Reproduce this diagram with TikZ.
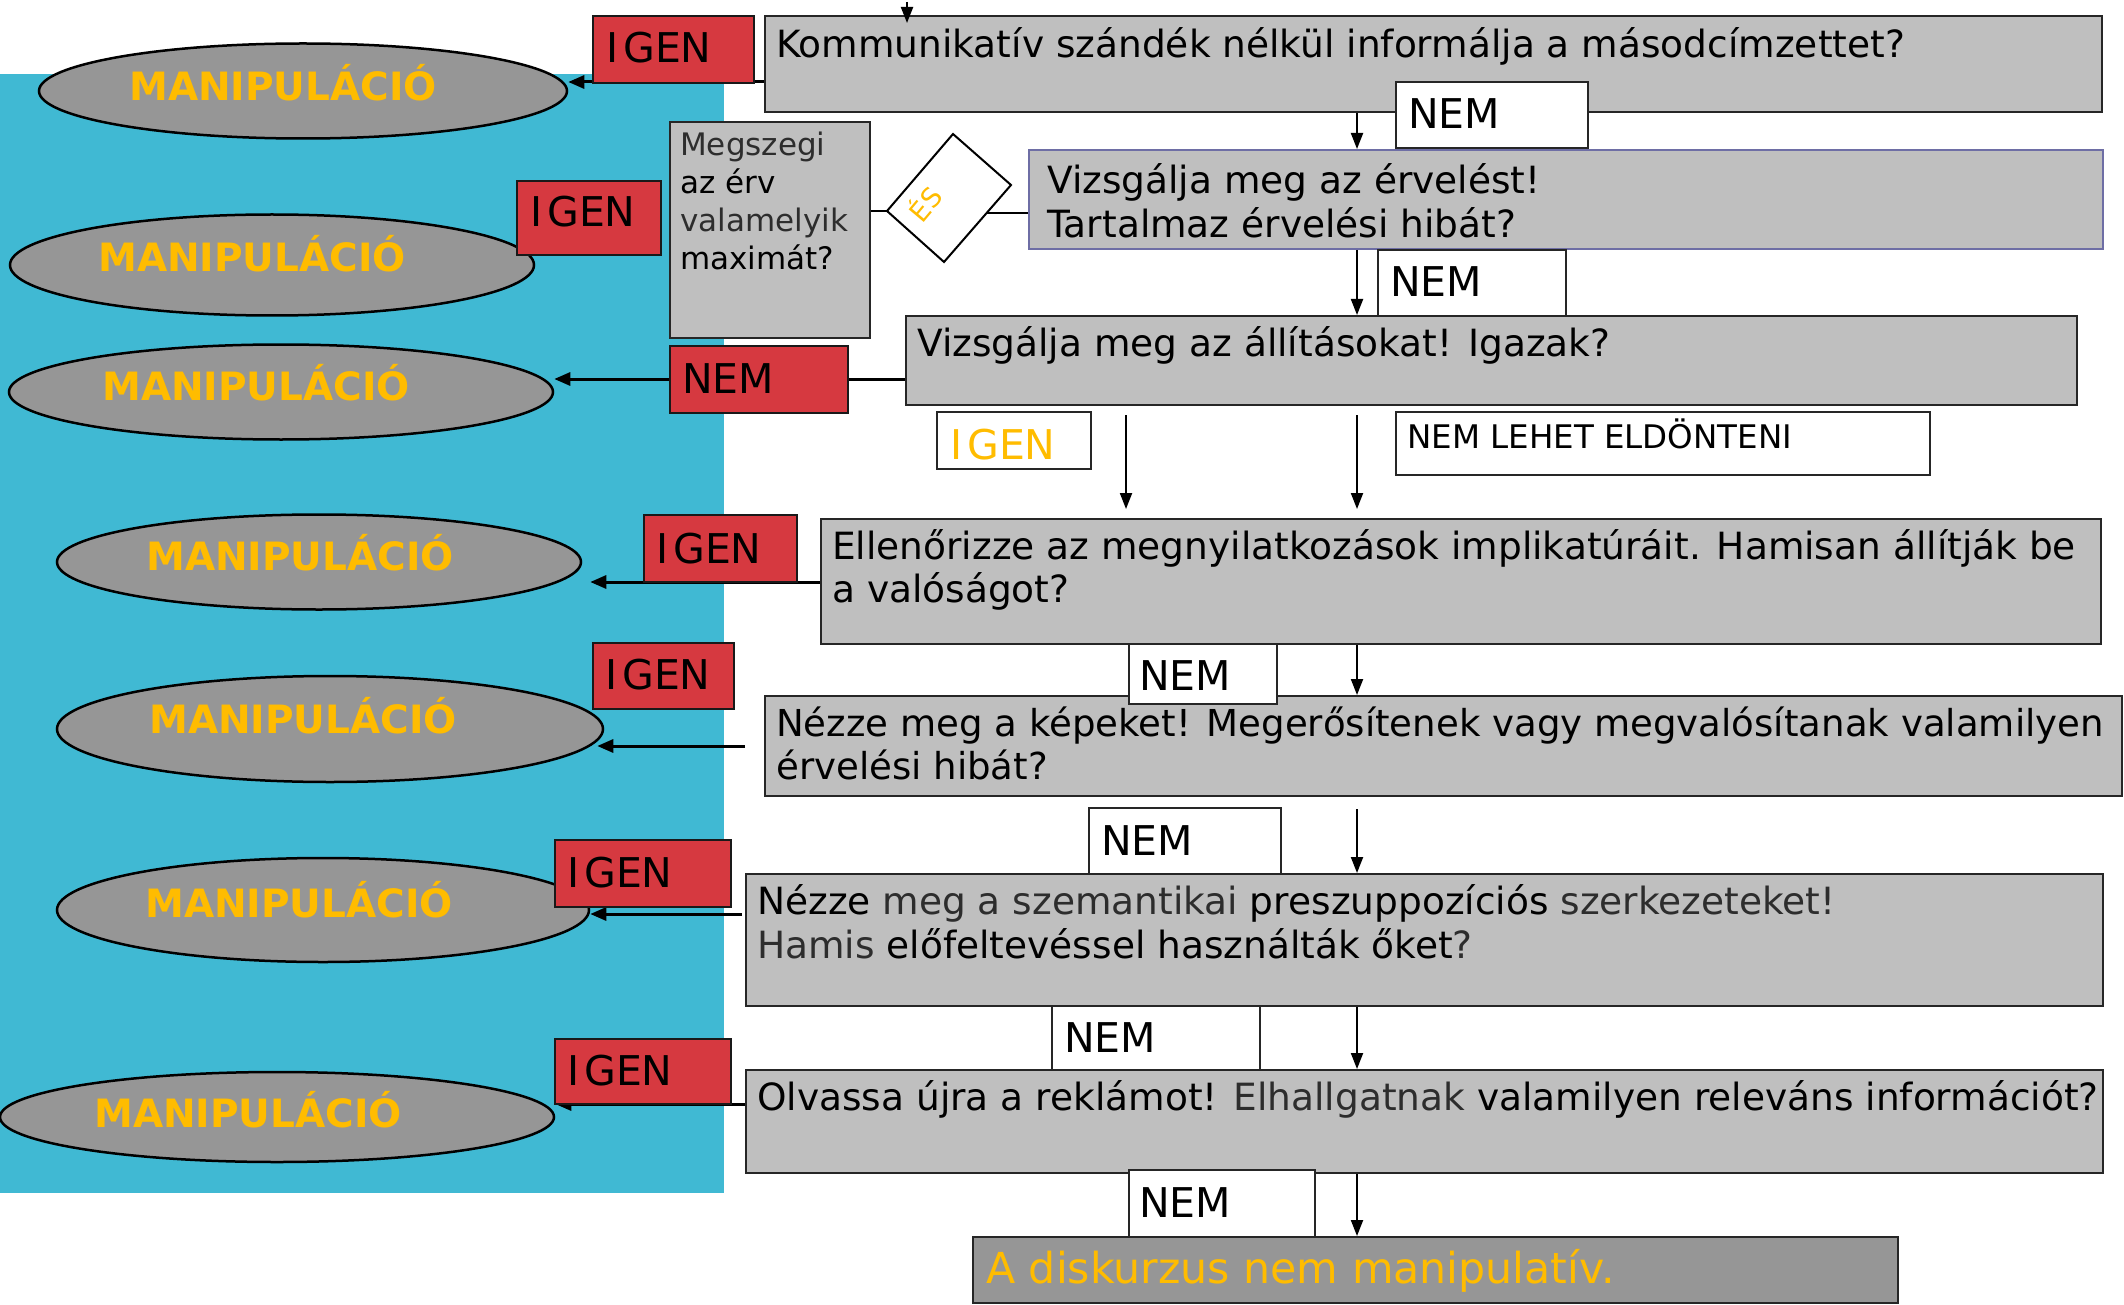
\documentclass[tikz,border=0pt]{standalone}
\usepackage{fontspec}
\setmainfont{DejaVu Sans}
\usetikzlibrary{shapes.geometric,arrows.meta,calc}
\definecolor{bluebg}{RGB}{64,185,211}
\definecolor{ellgray}{RGB}{150,150,150}
\definecolor{boxgray}{RGB}{191,191,191}
\definecolor{redbox}{RGB}{214,57,64}
\definecolor{orangec}{RGB}{255,188,0}
\definecolor{litec}{RGB}{45,45,45}
\definecolor{vizborder}{RGB}{110,110,165}
\newcommand\lite[1]{{\color{litec}#1}}
\newcommand\igentext{I\kern5pt GEN}
\begin{document}
\begin{tikzpicture}[x=1pt,y=-1pt,
  gbox/.style={draw=black!85, line width=2pt, fill=boxgray, anchor=north west, inner sep=0pt},
  wbox/.style={draw=black!85, line width=1.6pt, fill=white, anchor=north west, inner sep=0pt},
  rbox/.style={draw=black!90, line width=2pt, fill=redbox, anchor=north west, inner sep=0pt},
  ell/.style={ellipse, draw=black, line width=2.5pt, fill=ellgray, inner sep=0pt},
  mt/.style={anchor=base west, inner sep=0pt, font=\fontsize{37.5}{44}\selectfont},
  st/.style={anchor=base west, inner sep=0pt, font=\fontsize{31}{38}\selectfont},
  lbl/.style={anchor=base west, inner sep=0pt, font=\fontsize{41}{48}\selectfont},
  mtext/.style={anchor=base west, inner sep=0pt, text=orangec, font=\bfseries\fontsize{39}{40}\selectfont},
  arr/.style={-{Triangle[length=16pt,width=13pt]}, line width=3pt},
  varr/.style={-{Triangle[length=16pt,width=12pt]}, line width=2pt},
  plain/.style={line width=2pt}
]
\useasboundingbox (0,0) rectangle (2124,1305);
\fill[bluebg] (0,74) rectangle (724,1193);

% ellipses
\node[ell, minimum width=528pt, minimum height=95pt] (e1) at (303,91) {};
\node[ell, minimum width=524pt, minimum height=101pt] (e2) at (272,265) {};
\node[ell, minimum width=544pt, minimum height=95pt] (e3) at (281,392) {};
\node[ell, minimum width=524pt, minimum height=95pt] (e4) at (319,562) {};
\node[ell, minimum width=546pt, minimum height=106pt] (e5) at (330,729) {};
\node[ell, minimum width=532pt, minimum height=104pt] (e6) at (323,910) {};
\node[ell, minimum width=554pt, minimum height=90pt] (e7) at (277,1117) {};
\node[mtext] (t1) at (129,101) {MANIPULÁCIÓ};
\node[mtext] (t2) at (98,272) {MANIPULÁCIÓ};
\node[mtext] (t3) at (102,400) {MANIPULÁCIÓ};
\node[mtext] (t4) at (146,570) {MANIPULÁCIÓ};
\node[mtext] (t5) at (149,733) {MANIPULÁCIÓ};
\node[mtext] (t6) at (145,917) {MANIPULÁCIÓ};
\node[mtext] (t7) at (94,1127) {MANIPULÁCIÓ};

% main boxes
\node[gbox, minimum width=1337pt, minimum height=96pt] (komm) at (764,15) {};
\node[gbox, draw=vizborder, minimum width=1074pt, minimum height=99pt] (viz) at (1028,149) {};
\node[gbox, minimum width=1171pt, minimum height=89pt] (allit) at (905,315) {};
\node[gbox, minimum width=1280pt, minimum height=125pt] (ell) at (820,518) {};
\node[gbox, minimum width=1357pt, minimum height=100pt] (kep) at (764,695) {};
\node[gbox, minimum width=1357pt, minimum height=132pt] (presz) at (745,873) {};
\node[gbox, minimum width=1357pt, minimum height=103pt] (olv) at (745,1069) {};
\node[gbox, fill=ellgray, minimum width=925pt, minimum height=66pt] (fin) at (972,1236) {};
\node[gbox, minimum width=200pt, minimum height=216pt] (megs) at (669,121) {};

% arrows to the ellipses
\coordinate (p6) at ($(presz.north west)+(0,41)$);
\draw[arr] (komm.west |- 0,82) -- (e1.east |- 0,82);
\draw[arr] (allit.west |- 0,379) -- (e3.east |- 0,379);
\draw[arr] (ell.west |- 0,582) -- ($(e4.east |- 0,582)+(8,0)$);
\draw[arr, shorten <=19pt] (kep.west) -- ($(e5.east |- kep.west)+(-7,0)$);
\draw[arr, shorten <=3pt] (p6) -- (e6.east |- p6);
\draw[arr] (olv.west |- 0,1104) -- (e7.east |- 0,1104);

% red boxes
\node[rbox, minimum width=161pt, minimum height=67pt] (igen1) at (592,15) {};
\node[rbox, minimum width=144pt, minimum height=74pt] (igen2) at (516,180) {};
\node[rbox, minimum width=178pt, minimum height=67pt] (nemr) at (669,345) {};
\node[rbox, minimum width=153pt, minimum height=67pt] (igen4) at (643,514) {};
\node[rbox, minimum width=141pt, minimum height=66pt] (igen5) at (592,642) {};
\node[rbox, minimum width=176pt, minimum height=67pt] (igen6) at (554,839) {};
\node[rbox, minimum width=176pt, minimum height=65pt] (igen7) at (554,1038) {};
\node[lbl] (ligen1) at (606,63) {\igentext};
\node[lbl] (ligen2) at (530,227) {\igentext};
\node[lbl] (lnemr) at (682,393) {NEM};
\node[lbl] (ligen4) at (656,563) {\igentext};
\node[lbl] (ligen5) at (605,689) {\igentext};
\node[lbl] (ligen6) at (567,887) {\igentext};
\node[lbl] (ligen7) at (567,1085) {\igentext};

% white label boxes
\node[wbox, minimum width=192pt, minimum height=66pt] (nem1) at (1395,81) {};
\node[wbox, minimum width=188pt, minimum height=66pt] (nem2) at (1377,249) {};
\node[wbox, minimum width=154pt, minimum height=57pt] (igenw) at (936,411) {};
\node[wbox, minimum width=534pt, minimum height=63pt] (nemlehet) at (1395,411) {};
\node[wbox, minimum width=148pt, minimum height=60pt] (nem3) at (1128,643) {};
\node[wbox, minimum width=192pt, minimum height=66pt] (nem4) at (1088,807) {};
\node[wbox, minimum width=208pt, minimum height=64pt] (nem5) at (1051,1005) {};
\node[wbox, minimum width=186pt, minimum height=67pt] (nem6) at (1128,1169) {};
\node[lbl] (lnem1) at (1408,129) {NEM};
\node[lbl] (lnem2) at (1390,297) {NEM};
\node[lbl, text=orangec] (ligenw) at (950,459) {\igentext};
\node[st, font=\fontsize{32.5}{38}\selectfont] (lnemlehet) at (1407,448) {NEM LEHET ELDÖNTENI};
\node[lbl] (lnem3) at (1139,690) {NEM};
\node[lbl] (lnem4) at (1101,855) {NEM};
\node[lbl] (lnem5) at (1064,1052) {NEM};
\node[lbl] (lnem6) at (1139,1217) {NEM};

% box texts
\node[mt] (tkomm) at (776,58) {Kommunikatív szándék nélkül informálja a másodcímzettet?};
\node[mt] (tviz1) at (1047,194) {Vizsgálja meg az érvelést!};
\node[mt] (tviz2) at (1047,238) {Tartalmaz érvelési hibát?};
\node[mt] (tallit) at (917,356) {Vizsgálja meg az állításokat! Igazak?};
\node[mt] (tell1) at (832,559) {Ellenőrizze az megnyilatkozások implikatúráit. Hamisan állítják be};
\node[mt] (tell2) at (832,602) {a valóságot?};
\node[mt, font=\fontsize{37.1}{44}\selectfont] (tkep1) at (776,736) {Nézze meg a képeket! Megerősítenek vagy megvalósítanak valamilyen};
\node[mt, font=\fontsize{37.1}{44}\selectfont] (tkep2) at (776,779) {érvelési hibát?};
\node[mt] (tpresz1) at (757,914) {Nézze \lite{meg a szemantikai} preszuppozíciós \lite{szerkezeteket!}};
\node[mt] (tpresz2) at (757,958) {\lite{Hamis} előfeltevéssel használták őket\lite{?}};
\node[mt] (tolv) at (757,1110) {Olvassa újra a reklámot! \lite{Elhallgatnak} valamilyen releváns információt?};
\node[mt, text=orangec, font=\fontsize{42.7}{48}\selectfont] (tfin) at (986,1283) {A diskurzus nem manipulatív.};
\node[st] (tm1) at (680,156) {\lite{Megszegi}};
\node[st] (tm2) at (680,194) {az érv};
\node[st] (tm3) at (680,232) {\lite{valamelyik}};
\node[st] (tm4) at (680,270) {maximát?};

% diamond
\coordinate (dT) at (953,134);
\coordinate (dR) at (1011,185);
\coordinate (dB) at (944,262);
\coordinate (dL) at (887,211);
\coordinate (dE) at (987,213);
\draw[fill=white, line width=2pt] (dT) -- (dR) -- (dB) -- (dL) -- cycle;
\node[rotate=50, text=orangec, inner sep=0pt, font=\fontsize{27}{30}\selectfont] (es) at (924,203) {ÉS};
\draw[plain] (megs.east |- dL) -- (dL);
\draw[plain] (dE) -- (viz.west |- dE);

% vertical arrows
\coordinate (cx) at (1357,0);
\coordinate (cy) at (1126,0);
\coordinate (topin) at (907,2);
\draw[varr] (topin) -- ($(topin |- komm.north)+(0,8)$);
\draw[varr] (komm.south -| cx) -- (viz.north -| cx);
\draw[varr] (viz.south -| cx) -- (allit.north -| cx);
\draw[varr, shorten <=9pt, shorten >=9pt] (allit.south -| cx) -- (ell.north -| cx);
\draw[varr, shorten <=9pt, shorten >=9pt] (allit.south -| cy) -- (ell.north -| cy);
\draw[varr] (ell.south -| cx) -- (kep.north -| cx);
\draw[varr, shorten <=12pt] (kep.south -| cx) -- (presz.north -| cx);
\draw[varr] (presz.south -| cx) -- (olv.north -| cx);
\draw[varr] (olv.south -| cx) -- (fin.north -| cx);
\end{tikzpicture}
\end{document}
